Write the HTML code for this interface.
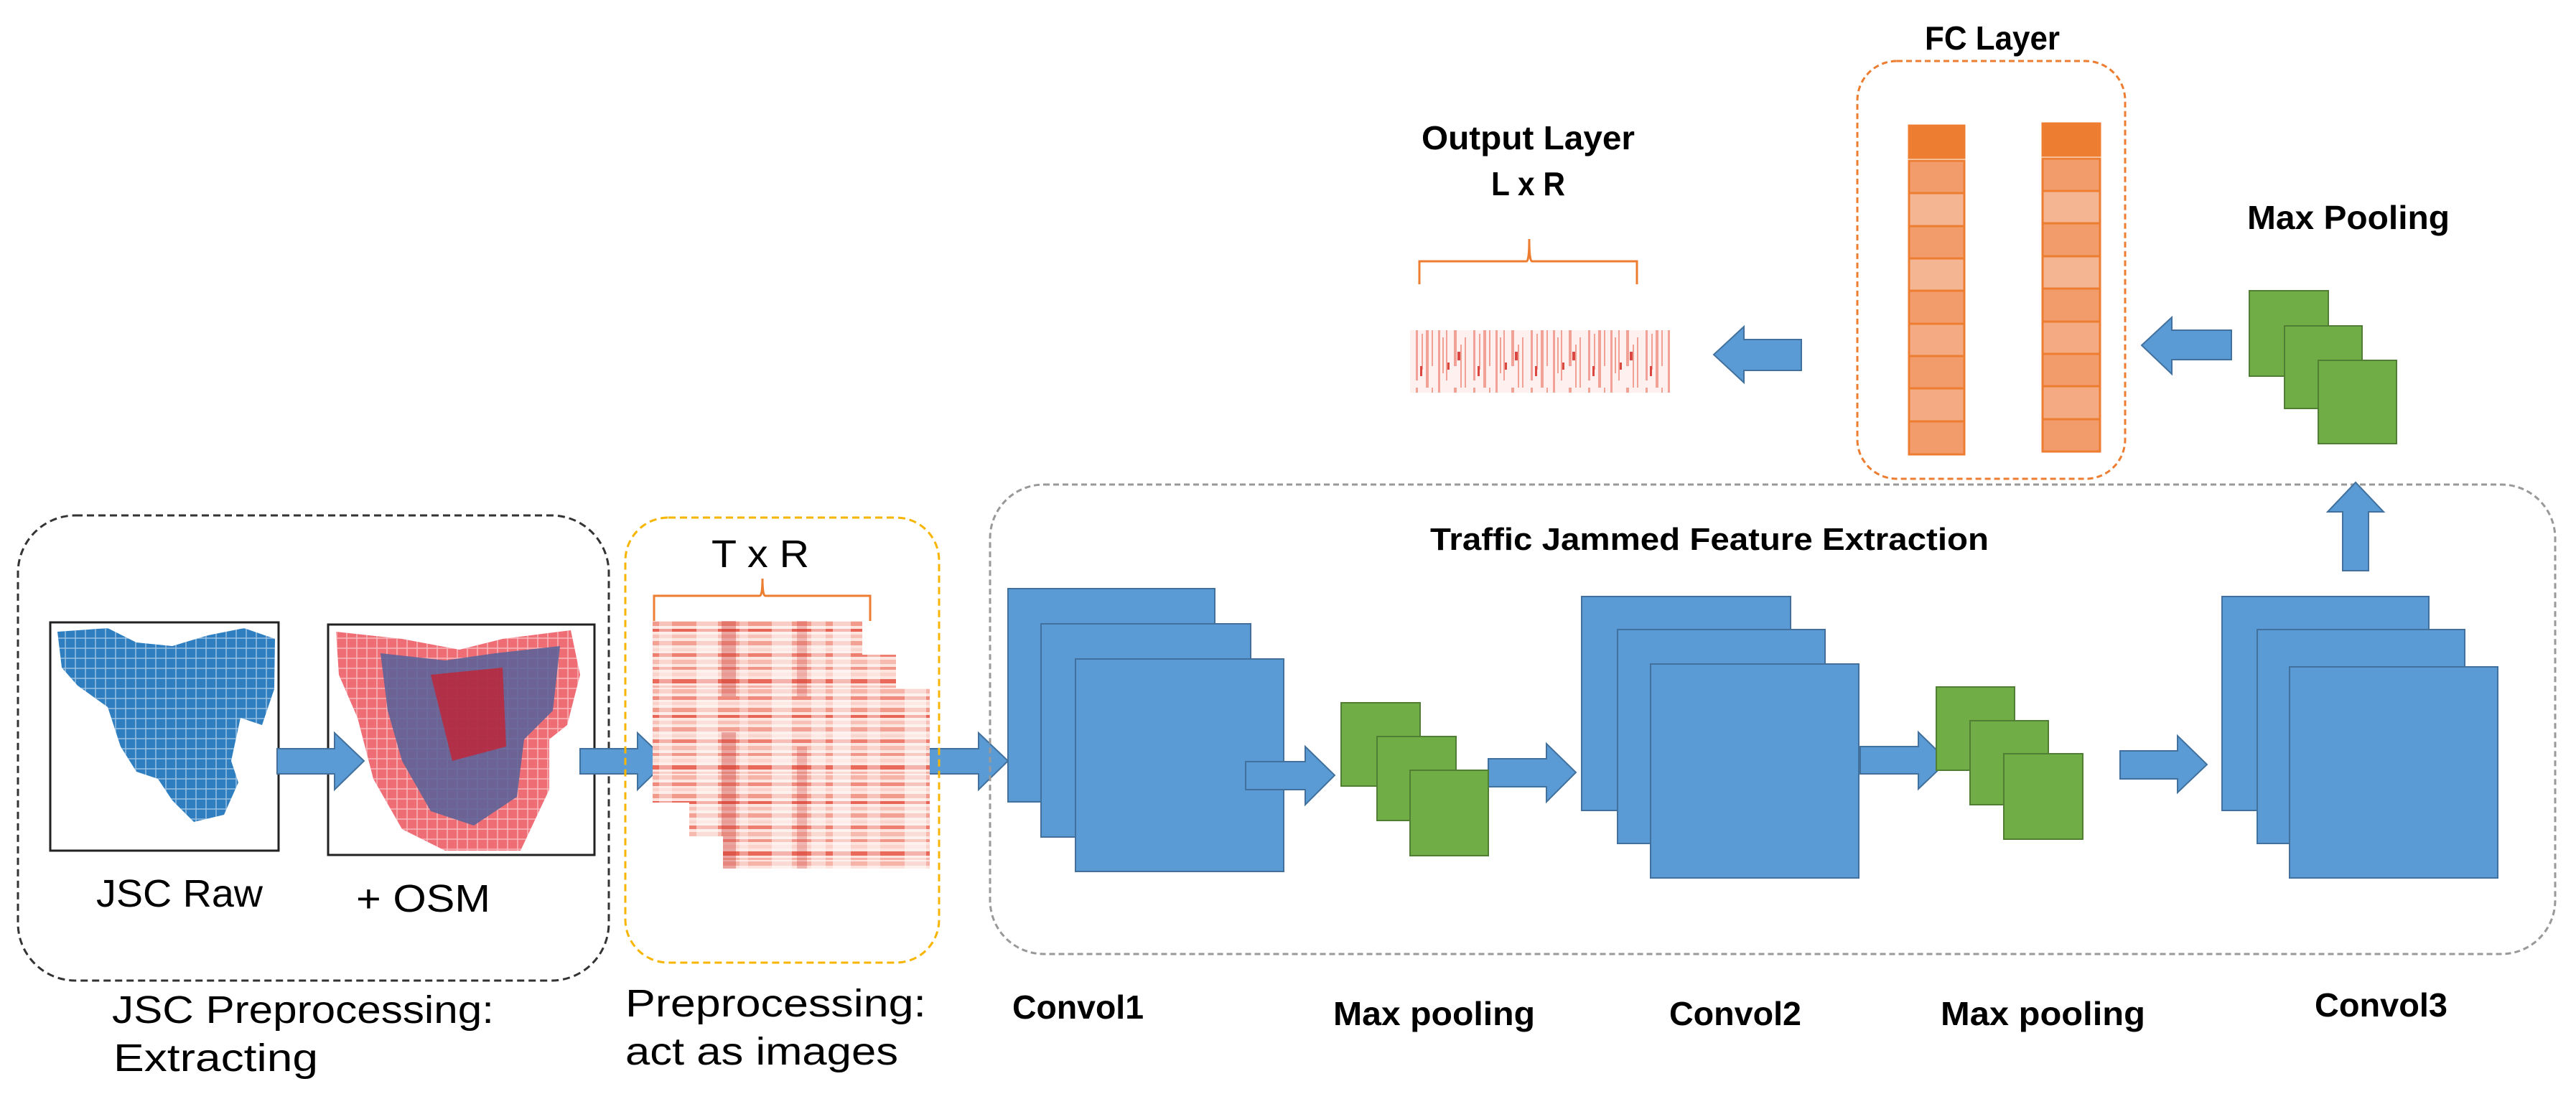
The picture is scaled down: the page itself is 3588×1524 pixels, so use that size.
<!DOCTYPE html>
<html><head><meta charset="utf-8"><style>html,body{margin:0;padding:0;background:#fff}svg{display:block}</style></head>
<body>
<svg width="3588" height="1524" viewBox="0 0 3588 1524" xmlns="http://www.w3.org/2000/svg" font-family="'Liberation Sans',sans-serif">
<defs>
<pattern id="rows" width="290" height="120" patternUnits="userSpaceOnUse">
<rect width="290" height="120" fill="#fde4df"/>
<rect y="0" width="290" height="6" fill="#f6b3a8"/>
<rect y="10" width="290" height="5" fill="#f08a7c"/>
<rect y="18" width="290" height="4" fill="#fbd0c8"/>
<rect y="26" width="290" height="6" fill="#f29a8c"/>
<rect y="36" width="290" height="4" fill="#e86456"/>
<rect y="44" width="290" height="5" fill="#f8c1b8"/>
<rect y="53" width="290" height="6" fill="#f3a194"/>
<rect y="63" width="290" height="4" fill="#fad5ce"/>
<rect y="70" width="290" height="5" fill="#ee7e70"/>
<rect y="79" width="290" height="6" fill="#f7baae"/>
<rect y="89" width="290" height="4" fill="#f29589"/>
<rect y="97" width="290" height="5" fill="#fbd3cb"/>
<rect y="106" width="290" height="6" fill="#e9695b"/>
<rect y="115" width="290" height="3" fill="#f6b0a5"/>
</pattern>
<pattern id="cols" width="290" height="250" patternUnits="userSpaceOnUse">
<rect x="0" width="25" height="250" fill="#fff" opacity="0.55"/>
<rect x="48" width="18" height="250" fill="#fff" opacity="0.4"/>
<rect x="100" width="30" height="250" fill="#fff" opacity="0.5"/>
<rect x="160" width="12" height="250" fill="#fff" opacity="0.35"/>
<rect x="205" width="28" height="250" fill="#fff" opacity="0.5"/>
<rect x="260" width="20" height="250" fill="#fff" opacity="0.45"/>
<rect x="135" y="20" width="20" height="200" fill="#c8302a" opacity="0.35"/>
<rect x="240" y="40" width="14" height="180" fill="#c8302a" opacity="0.25"/>
</pattern>
<pattern id="hm2" width="80" height="90" patternUnits="userSpaceOnUse">
<rect width="80" height="90" fill="#fdf0ee"/>
<g fill="#f2a197"><rect x="3" y="0" width="3" height="90"/><rect x="9" y="20" width="2" height="50"/><rect x="14" y="10" width="2" height="70"/><rect x="25" y="0" width="4" height="60"/><rect x="34" y="30" width="2" height="60"/><rect x="40" y="20" width="2" height="70"/><rect x="52" y="0" width="3" height="80"/><rect x="60" y="15" width="2" height="50"/><rect x="66" y="10" width="4" height="80"/><rect x="74" y="0" width="2" height="60"/></g>
<g fill="#d9473e"><rect x="30" y="40" width="4" height="12"/><rect x="58" y="60" width="3" height="14"/><rect x="16" y="55" width="3" height="10"/></g>
</pattern>
<pattern id="tex" width="14" height="14" patternUnits="userSpaceOnUse">
<path d="M0 7 L14 7 M7 0 L7 14" stroke="#fff" stroke-width="1.5" opacity="0.5"/>
</pattern>
</defs>

<!-- Left black dashed box -->
<rect x="25" y="718" width="823" height="648" rx="80" fill="none" stroke="#333" stroke-width="3" stroke-dasharray="10,6"/>
<!-- JSC raw -->
<rect x="70" y="867" width="318" height="318" fill="#fff" stroke="#222" stroke-width="3"/>
<path d="M80 880 L150 875 L190 895 L240 900 L290 885 L340 875 L383 890 L382 960 L365 1010 L335 1000 L322 1060 L332 1090 L312 1135 L270 1145 L240 1115 L220 1085 L190 1075 L168 1040 L150 985 L108 955 L86 930 Z" fill="#2f7fc0"/>
<path d="M80 880 L150 875 L190 895 L240 900 L290 885 L340 875 L383 890 L382 960 L365 1010 L335 1000 L322 1060 L332 1090 L312 1135 L270 1145 L240 1115 L220 1085 L190 1075 L168 1040 L150 985 L108 955 L86 930 Z" fill="url(#tex)"/>
<!-- OSM -->
<rect x="457" y="870" width="371" height="321" fill="#fff" stroke="#222" stroke-width="3"/>
<path d="M468 880 L560 890 L640 905 L700 890 L795 878 L808 940 L790 1010 L765 1030 L765 1100 L725 1185 L620 1185 L560 1155 L520 1085 L498 1000 L472 940 Z" fill="#e8303c" opacity="0.7"/>
<path d="M468 880 L560 890 L640 905 L700 890 L795 878 L808 940 L790 1010 L765 1030 L765 1100 L725 1185 L620 1185 L560 1155 L520 1085 L498 1000 L472 940 Z" fill="url(#tex)"/>
<path d="M530 910 L620 920 L690 910 L780 900 L770 990 L730 1030 L720 1110 L660 1150 L600 1130 L560 1060 L540 990 Z" fill="#55609a" opacity="0.85"/>
<path d="M600 940 L700 930 L705 1040 L630 1060 Z" fill="#c8202e" opacity="0.75"/>
<!-- arrows left -->
<g fill="#5b9bd5" stroke="#41719c" stroke-width="2">
<polygon points="386,1043 466,1043 466,1021 507,1060 466,1100 466,1078 386,1078"/>
<polygon points="808,1043 888,1043 888,1021 929,1060 888,1100 888,1078 808,1078"/>
<polygon points="1293,1043 1363,1043 1363,1021 1404,1060 1363,1100 1363,1078 1293,1078"/>
</g>
<text x="134" y="1263" font-size="54" textLength="232" lengthAdjust="spacingAndGlyphs">JSC Raw</text>
<text x="496" y="1270" font-size="54" textLength="187" lengthAdjust="spacingAndGlyphs">+ OSM</text>
<text x="156" y="1425" font-size="54" textLength="532" lengthAdjust="spacingAndGlyphs">JSC Preprocessing:</text>
<text x="158" y="1492" font-size="54" textLength="285" lengthAdjust="spacingAndGlyphs">Extracting</text>

<!-- yellow box -->
<rect x="871" y="721" width="437" height="620" rx="60" fill="none" stroke="#f7b500" stroke-width="3" stroke-dasharray="10,6"/>
<text x="991" y="790" font-size="54" textLength="136" lengthAdjust="spacingAndGlyphs">T x R</text>
<path d="M911 865 V830 H1058 Q1062 830 1062 806 Q1062 830 1066 830 H1212 V865" fill="none" stroke="#ed7d31" stroke-width="3"/>
<g>
<rect x="909" y="865" width="292" height="253" fill="url(#rows)"/><rect x="909" y="865" width="292" height="253" fill="url(#cols)"/>
<rect x="960" y="912" width="288" height="253" fill="url(#rows)"/><rect x="960" y="912" width="288" height="253" fill="url(#cols)"/>
<rect x="1007" y="959" width="288" height="251" fill="url(#rows)"/><rect x="1007" y="959" width="288" height="251" fill="url(#cols)"/>
</g>
<text x="871" y="1416" font-size="54" textLength="419" lengthAdjust="spacingAndGlyphs">Preprocessing:</text>
<text x="871" y="1483" font-size="54" textLength="380" lengthAdjust="spacingAndGlyphs">act as images</text>

<!-- gray box -->
<rect x="1379" y="675" width="2180" height="654" rx="75" fill="none" stroke="#999" stroke-width="3" stroke-dasharray="8,5"/>
<text x="1992" y="766" font-size="44" font-weight="bold" textLength="778" lengthAdjust="spacingAndGlyphs">Traffic Jammed Feature Extraction</text>

<g fill="#5b9bd5" stroke="#41719c" stroke-width="2">
<rect x="1404" y="820" width="288" height="297"/><rect x="1450" y="869" width="292" height="297"/><rect x="1498" y="918" width="290" height="296"/>
<rect x="2203" y="831" width="291" height="298"/><rect x="2253" y="877" width="289" height="298"/><rect x="2299" y="925" width="290" height="298"/>
<rect x="3095" y="831" width="288" height="298"/><rect x="3144" y="877" width="289" height="298"/><rect x="3189" y="929" width="290" height="294"/>
<polygon points="1735,1061 1818,1061 1818,1040 1859,1080 1818,1121 1818,1100 1735,1100"/>
<polygon points="2073,1057 2154,1057 2154,1036 2195,1076 2154,1117 2154,1096 2073,1096"/>
<polygon points="2591,1040 2672,1040 2672,1020 2713,1060 2672,1099 2672,1078 2591,1078"/>
<polygon points="2953,1046 3033,1046 3033,1025 3074,1065 3033,1104 3033,1085 2953,1085"/>
<polygon points="3263,795 3263,713 3242,713 3281,672 3320,713 3299,713 3299,795"/>
<polygon points="2509,473 2429,473 2429,455 2387,494 2429,533 2429,516 2509,516"/>
<polygon points="3108,460 3025,460 3025,442 2983,481 3025,521 3025,501 3108,501"/>
</g>
<g fill="#70ad47" stroke="#507e32" stroke-width="2">
<rect x="1868" y="979" width="110" height="116"/><rect x="1918" y="1026" width="110" height="117"/><rect x="1964" y="1073" width="109" height="119"/>
<rect x="2697" y="957" width="109" height="116"/><rect x="2744" y="1004" width="109" height="117"/><rect x="2791" y="1050" width="110" height="119"/>
<rect x="3133" y="405" width="110" height="119"/><rect x="3182" y="454" width="108" height="115"/><rect x="3229" y="502" width="109" height="116"/>
</g>
<g font-size="46" font-weight="bold">
<text x="1410" y="1419" textLength="183" lengthAdjust="spacingAndGlyphs">Convol1</text>
<text x="1857" y="1428" textLength="281" lengthAdjust="spacingAndGlyphs">Max pooling</text>
<text x="2325" y="1428" textLength="184" lengthAdjust="spacingAndGlyphs">Convol2</text>
<text x="2703" y="1428" textLength="285" lengthAdjust="spacingAndGlyphs">Max pooling</text>
<text x="3224" y="1416" textLength="185" lengthAdjust="spacingAndGlyphs">Convol3</text>
<text x="2681" y="69" textLength="188" lengthAdjust="spacingAndGlyphs">FC Layer</text>
<text x="1980" y="208" textLength="297" lengthAdjust="spacingAndGlyphs">Output Layer</text>
<text x="2077" y="272" textLength="103" lengthAdjust="spacingAndGlyphs">L x R</text>
<text x="3130" y="319" textLength="282" lengthAdjust="spacingAndGlyphs">Max Pooling</text>
</g>

<!-- FC box -->
<rect x="2587" y="85" width="373" height="582" rx="55" fill="none" stroke="#ed7d31" stroke-width="3" stroke-dasharray="8,5"/>
<g stroke="#ed7d31" stroke-width="3">
<rect x="2659" y="175" width="77" height="45" fill="#ed7d31"/>
<rect x="2659" y="224" width="77" height="45" fill="#f19c6a"/>
<rect x="2659" y="269" width="77" height="46" fill="#f4b593"/>
<rect x="2659" y="315" width="77" height="45" fill="#f19c6a"/>
<rect x="2659" y="360" width="77" height="45" fill="#f4b593"/>
<rect x="2659" y="405" width="77" height="46" fill="#f19c6a"/>
<rect x="2659" y="451" width="77" height="45" fill="#f4aa82"/>
<rect x="2659" y="496" width="77" height="45" fill="#f19c6a"/>
<rect x="2659" y="541" width="77" height="46" fill="#f4aa82"/>
<rect x="2659" y="587" width="77" height="46" fill="#f19c6a"/>
<rect x="2845" y="172" width="80" height="45" fill="#ed7d31"/>
<rect x="2845" y="221" width="80" height="45" fill="#f19c6a"/>
<rect x="2845" y="266" width="80" height="45" fill="#f4b593"/>
<rect x="2845" y="311" width="80" height="46" fill="#f19c6a"/>
<rect x="2845" y="357" width="80" height="45" fill="#f4b593"/>
<rect x="2845" y="402" width="80" height="46" fill="#f19c6a"/>
<rect x="2845" y="448" width="80" height="45" fill="#f4aa82"/>
<rect x="2845" y="493" width="80" height="45" fill="#f19c6a"/>
<rect x="2845" y="538" width="80" height="46" fill="#f4aa82"/>
<rect x="2845" y="584" width="80" height="45" fill="#f19c6a"/>
</g>
<!-- output brace + heatmap -->
<path d="M1977 396 V364 H2126 Q2130 364 2130 333 Q2130 364 2134 364 H2280 V396" fill="none" stroke="#ed7d31" stroke-width="3"/>
<rect x="1964" y="460" width="362" height="87" fill="url(#hm2)"/>
</svg>
</body></html>
